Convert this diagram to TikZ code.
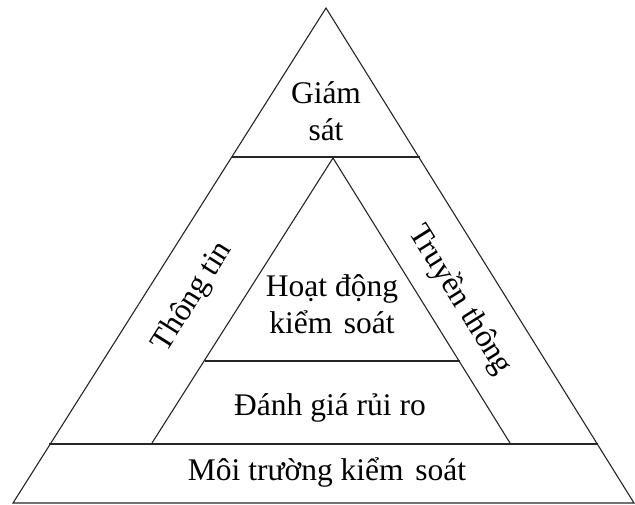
\documentclass[tikz,border=0pt]{standalone}
\usepackage{fontspec}
\setmainfont{Liberation Serif}
\usepackage{tikz}
\usetikzlibrary{positioning}

\begin{document}
\begin{tikzpicture}[x=1pt,y=-1pt]
		\tikzset{Layer/.style = {align = center, inner sep = 0pt, font = \fontsize{31.5}{37}\selectfont}}
		\tikzset{Edge/.style = {line width = 1.1pt, draw = black!85}}
		\useasboundingbox (0,0) rectangle (635,504);
		% outer triangle
		\coordinate (T) at (326,8);
		\coordinate (L) at (13,503);
		\coordinate (R) at (634,503);
		% bands
		\coordinate (G1) at (232,157);
		\coordinate (G2) at (420,157);
		\coordinate (M1) at (49,444);
		\coordinate (M2) at (598,444);
		% inner triangle
		\coordinate (IT) at (333,158);
		\coordinate (IL) at (152,443);
		\coordinate (IR) at (510,443);
		\coordinate (D1) at (205,361);
		\coordinate (D2) at (460,361);
		\draw[Edge] (T) -- (L) -- (R) -- cycle;
		\draw[Edge] (G1) -- (G2);
		\draw[Edge] (M1) -- (M2);
		\draw[Edge] (IL) -- (IT) -- (IR);
		\draw[Edge] (D1) -- (D2);
		\node[Layer] (GS) at (326,111) {Giám\\sát};
		\node[Layer] (TT) at (193,297) [rotate = 57.7] {Thông tin};
		\node[Layer] (TR) at (460,300) [rotate = -58] {Truyền thông};
		\node[Layer] (HD) at (332,304) {Hoạt động\\kiểm\hspace{0.12em} soát};
		\node[Layer] (DG) at (330,408) {Đánh giá rủi ro};
		\node[Layer] (MT) at (327,472) {Môi trường kiểm\hspace{0.12em} soát};
	\end{tikzpicture}
\end{document}
